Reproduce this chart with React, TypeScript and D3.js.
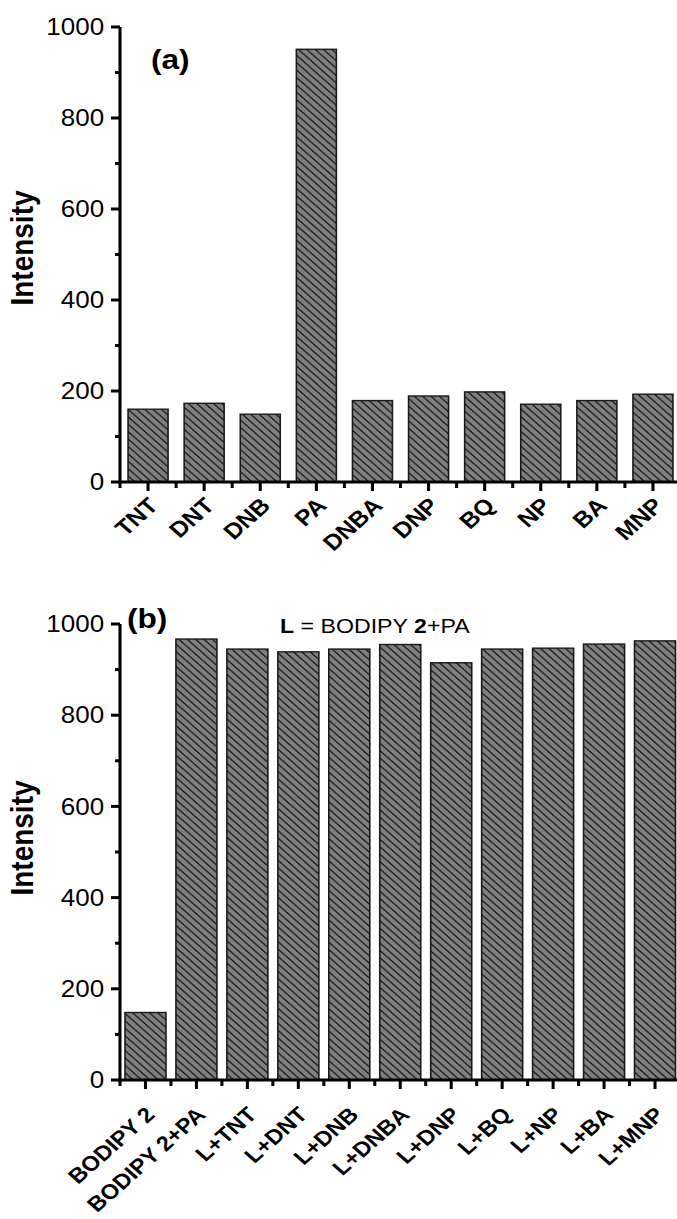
import React from "react";
import * as d3 from "d3";

// Panel (a): emission intensity of BODIPY 2 with each nitro analyte
const analytesA = ["TNT", "DNT", "DNB", "PA", "DNBA", "DNP", "BQ", "NP", "BA", "MNP"];
const intensityA = [160, 173, 149, 951, 179, 189, 198, 171, 179, 193];

// Panel (b): competition experiments, L = BODIPY 2 + PA
const analytesB = [
  "BODIPY 2",
  "BODIPY 2+PA",
  "L+TNT",
  "L+DNT",
  "L+DNB",
  "L+DNBA",
  "L+DNP",
  "L+BQ",
  "L+NP",
  "L+BA",
  "L+MNP",
];
const intensityB = [148, 967, 945, 939, 945, 955, 915, 945, 947, 956, 963];

const majorTicks = [0, 200, 400, 600, 800, 1000];
const minorTicks = [100, 300, 500, 700, 900];

// The figure is drawn in a frame that is stretched horizontally.
const SX = 1.13;
const u = (pxValue: number) => pxValue / SX;

const FONT = "'Liberation Sans', Arial, Helvetica, sans-serif";

type PanelProps = {
  cats: string[];
  vals: number[];
  xPx: [number, number];
  yPx: [number, number];
  padding: number;
  labelSize: number;
  labelDx: number;
  labelY: number;
  titleY: number;
};

function Panel({ cats, vals, xPx, yPx, padding, labelSize, labelDx, labelY, titleY }: PanelProps) {
  const x = d3
    .scaleBand<string>()
    .domain(cats)
    .range([u(xPx[0]), u(xPx[1])])
    .paddingInner(padding)
    .paddingOuter(padding / 2);
  const y = d3.scaleLinear().domain([0, 1000]).range(yPx);
  const x0 = u(xPx[0]);
  const x1 = u(xPx[1]);
  const yBase = y(0);
  const step = x.step();
  const boundaries = d3.range(cats.length + 1).map((i) => x0 + i * step);

  return (
    <g>
      {/* bars */}
      {cats.map((c, i) => (
        <rect
          key={c}
          x={x(c)}
          y={y(vals[i])}
          width={x.bandwidth()}
          height={yBase - y(vals[i])}
          fill="url(#hatch)"
          stroke="#1a1a1a"
          strokeWidth={1.4}
        />
      ))}

      {/* y axis */}
      <line x1={x0} x2={x0} y1={y(1000)} y2={yBase} stroke="#000" strokeWidth={2.7} />
      {majorTicks.map((t) => (
        <g key={"M" + t}>
          <line x1={x0 - 8} x2={x0} y1={y(t)} y2={y(t)} stroke="#000" strokeWidth={3} />
          <text
            x={x0 - 14}
            y={y(t)}
            dy="0.36em"
            textAnchor="end"
            fontSize={23}
            fontFamily={FONT}
          >
            {t}
          </text>
        </g>
      ))}
      {minorTicks.map((t) => (
        <line key={"m" + t} x1={x0 - 4.4} x2={x0} y1={y(t)} y2={y(t)} stroke="#000" strokeWidth={3} />
      ))}

      {/* x axis */}
      <line x1={x0 - 1.2} x2={x1} y1={yBase} y2={yBase} stroke="#000" strokeWidth={3} />
      {boundaries.map((bx, i) => (
        <line key={"b" + i} x1={bx} x2={bx} y1={yBase} y2={yBase + 6} stroke="#000" strokeWidth={2.7} />
      ))}
      {cats.map((c) => {
        const cx = (x(c) as number) + x.bandwidth() / 2;
        return (
          <g key={"t" + c}>
            <line x1={cx} x2={cx} y1={yBase} y2={yBase + 9} stroke="#000" strokeWidth={2.7} />
            <text
              transform={`translate(${cx + u(labelDx)},${labelY}) rotate(-45)`}
              textAnchor="end"
              fontSize={labelSize}
              fontWeight="bold"
              fontFamily={FONT}
            >
              {c}
            </text>
          </g>
        );
      })}

      {/* y title */}
      <text
        transform={`translate(${u(33)},${titleY}) rotate(-90)`}
        textAnchor="middle"
        fontSize={28}
        fontWeight="bold"
        fontFamily={FONT}
      >
        Intensity
      </text>
    </g>
  );
}

export default function App() {
  const W = 677;
  const H = 1219;
  return (
    <div style={{ position: "absolute", left: 0, top: 0 }}>
      <svg width={W} height={H} viewBox={`0 0 ${W} ${H}`} style={{ display: "block", background: "#fff" }}>
        <defs>
          <pattern id="hatch" patternUnits="userSpaceOnUse" width={7.4} height={7.4}>
            <rect width={7.4} height={7.4} fill="#808080" />
            <path
              d="M0,0 L7.4,7.4 M-1,6.4 L1,8.4 M6.4,-1 L8.4,1"
              stroke="#000"
              strokeWidth={1}
            />
          </pattern>
        </defs>
        <g transform={`scale(${SX},1)`}>
          <Panel
            cats={analytesA}
            vals={intensityA}
            xPx={[120, 681]}
            yPx={[482, 27]}
            padding={0.287}
            labelSize={22}
            labelDx={11.5}
            labelY={507}
            titleY={248}
          />
          <text x={u(151)} y={69} fontSize={28} fontWeight="bold" fontFamily={FONT}>
            (a)
          </text>

          <Panel
            cats={analytesB}
            vals={intensityB}
            xPx={[120, 680.5]}
            yPx={[1080, 624]}
            padding={0.195}
            labelSize={21}
            labelDx={10.5}
            labelY={1116}
            titleY={838}
          />
          <text x={u(127)} y={628} fontSize={28} fontWeight="bold" fontFamily={FONT}>
            (b)
          </text>
          <text x={u(280)} y={633} fontSize={20.5} fontFamily={FONT}>
            <tspan fontWeight="bold">L</tspan>
            <tspan> = BODIPY </tspan>
            <tspan fontWeight="bold">2</tspan>
            <tspan>+PA</tspan>
          </text>
        </g>
      </svg>
    </div>
  );
}
